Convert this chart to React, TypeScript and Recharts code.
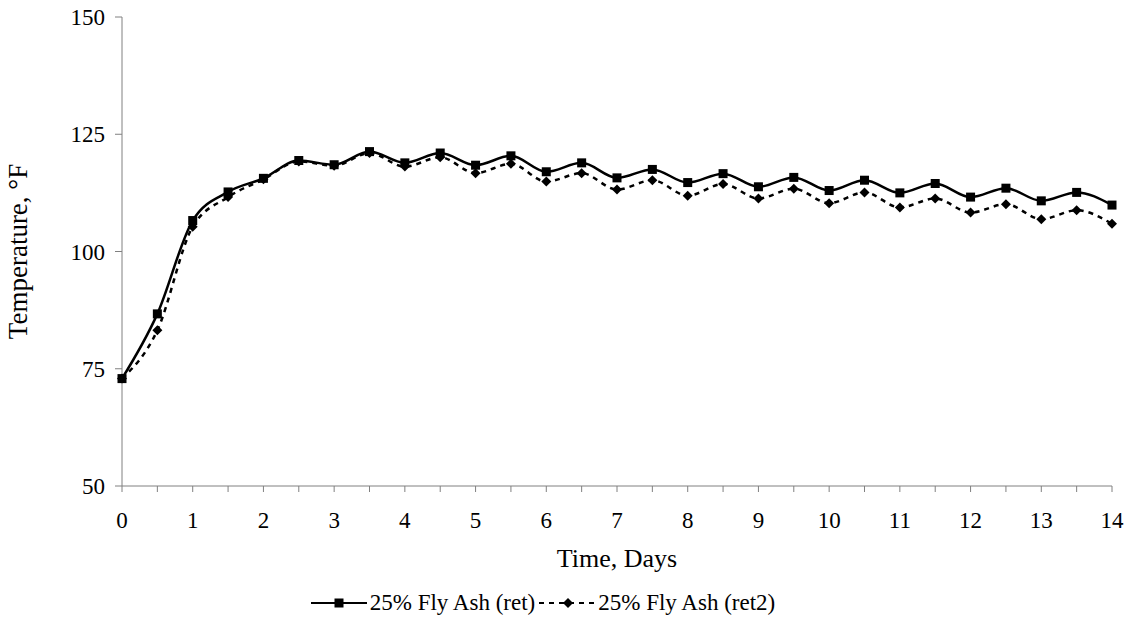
import React from 'react';
import { LineChart, Line, XAxis, YAxis, Legend } from 'recharts';

const days = [0, 0.5, 1, 1.5, 2, 2.5, 3, 3.5, 4, 4.5, 5, 5.5, 6, 6.5, 7, 7.5, 8, 8.5, 9, 9.5, 10, 10.5, 11, 11.5, 12, 12.5, 13, 13.5, 14];
const ret = [72.9, 86.7, 106.6, 112.7, 115.6, 119.4, 118.5, 121.3, 118.9, 121.0, 118.4, 120.4, 117.0, 118.9, 115.7, 117.5, 114.7, 116.6, 113.8, 115.8, 113.0, 115.2, 112.5, 114.5, 111.6, 113.5, 110.8, 112.6, 109.9];
const ret2 = [72.9, 83.2, 105.3, 111.6, 115.4, 119.2, 118.3, 121.0, 118.1, 120.1, 116.7, 118.7, 114.9, 116.7, 113.2, 115.2, 111.9, 114.4, 111.3, 113.4, 110.3, 112.6, 109.4, 111.3, 108.3, 110.1, 106.9, 108.8, 105.9];
const xTicks = [0, 0.5, 1, 1.5, 2, 2.5, 3, 3.5, 4, 4.5, 5, 5.5, 6, 6.5, 7, 7.5, 8, 8.5, 9, 9.5, 10, 10.5, 11, 11.5, 12, 12.5, 13, 13.5, 14];
const yTicks = [50, 75, 100, 125, 150];
const seriesNames = ['25% Fly Ash (ret)', '25% Fly Ash (ret2)'];

const data = days.map((d, i) => ({ day: d, ret: ret[i], ret2: ret2[i] }));

const FONT = "'Liberation Serif', 'Times New Roman', serif";

const SquareDot = (props: any) => {
  const { cx, cy, index } = props;
  if (cx == null || cy == null) return <g key={`s${index}`} />;
  return <rect key={`s${index}`} x={cx - 4.5} y={cy - 4.5} width={9} height={9} fill="#000" />;
};

const DiamondDot = (props: any) => {
  const { cx, cy, index } = props;
  if (cx == null || cy == null) return <g key={`d${index}`} />;
  return <polygon key={`d${index}`} points={`${cx},${cy - 5} ${cx + 5},${cy} ${cx},${cy + 5} ${cx - 5},${cy}`} fill="#000" />;
};

const LegendContent = () => (
  <div style={{ display: 'flex', justifyContent: 'center', alignItems: 'center', height: 30, paddingRight: 88, fontFamily: FONT, fontSize: 23, color: '#000' }}>
    <svg width={56} height={14} style={{ marginRight: 3 }}>
      <line x1={0} y1={7} x2={56} y2={7} stroke="#000" strokeWidth={2} />
      <rect x={23.5} y={2.5} width={9} height={9} fill="#000" />
    </svg>
    <span style={{ fontFamily: FONT, marginRight: 4 }}>{seriesNames[0]}</span>
    <svg width={58} height={14} style={{ marginRight: 1 }}>
      <line x1={0} y1={7} x2={58} y2={7} stroke="#000" strokeWidth={2} strokeDasharray="5 5" />
      <polygon points="29,2 34,7 29,12 24,7" fill="#000" />
    </svg>
    <span style={{ fontFamily: FONT }}>{seriesNames[1]}</span>
  </div>
);

const YLabel = (props: any) => {
  const vb = props.viewBox || {};
  const cy = vb.y + vb.height / 2;
  return (
    <text x={18} y={cy} transform={`rotate(-90, 18, ${cy})`} textAnchor="middle" dominantBaseline="central" fontFamily={FONT} fontSize={27} fill="#000">
      Temperature, °F
    </text>
  );
};

export default function App() {
  return (
    <div style={{ position: 'absolute', left: 0, top: 0, width: 1137, height: 635, background: '#fff' }}>
      <LineChart width={1137} height={635} data={data} margin={{ top: 17, right: 25, bottom: 17, left: 62 }}>
        <XAxis
          dataKey="day"
          type="number"
          domain={[0, 14]}
          ticks={xTicks}
          interval={0}
          tickFormatter={(v: number) => (Number.isInteger(v) ? String(v) : '')}
          tick={{ fontFamily: FONT, fontSize: 23, fill: '#000' }}
          tickSize={6}
          tickMargin={20}
          height={102}
          axisLine={{ stroke: '#808080', strokeWidth: 1 }}
          tickLine={{ stroke: '#808080' }}
          label={{ value: 'Time, Days', position: 'insideBottom', offset: 21, fontFamily: FONT, fontSize: 26, fill: '#000' }}
        />
        <YAxis
          type="number"
          domain={[50, 150]}
          ticks={yTicks}
          interval={0}
          tick={{ fontFamily: FONT, fontSize: 23, fill: '#000' }}
          tickSize={7}
          tickMargin={10}
          width={60}
          axisLine={{ stroke: '#808080', strokeWidth: 1 }}
          tickLine={{ stroke: '#808080' }}
          label={<YLabel />}
        />
        <Legend verticalAlign="bottom" content={<LegendContent />} />
        <Line
          type="monotone"
          dataKey="ret2"
          name={seriesNames[1]}
          stroke="#000"
          strokeWidth={2.5}
          strokeDasharray="5 5"
          dot={<DiamondDot />}
          activeDot={false}
          isAnimationActive={false}
        />
        <Line
          type="monotone"
          dataKey="ret"
          name={seriesNames[0]}
          stroke="#000"
          strokeWidth={2.5}
          dot={<SquareDot />}
          activeDot={false}
          isAnimationActive={false}
        />
      </LineChart>
    </div>
  );
}
